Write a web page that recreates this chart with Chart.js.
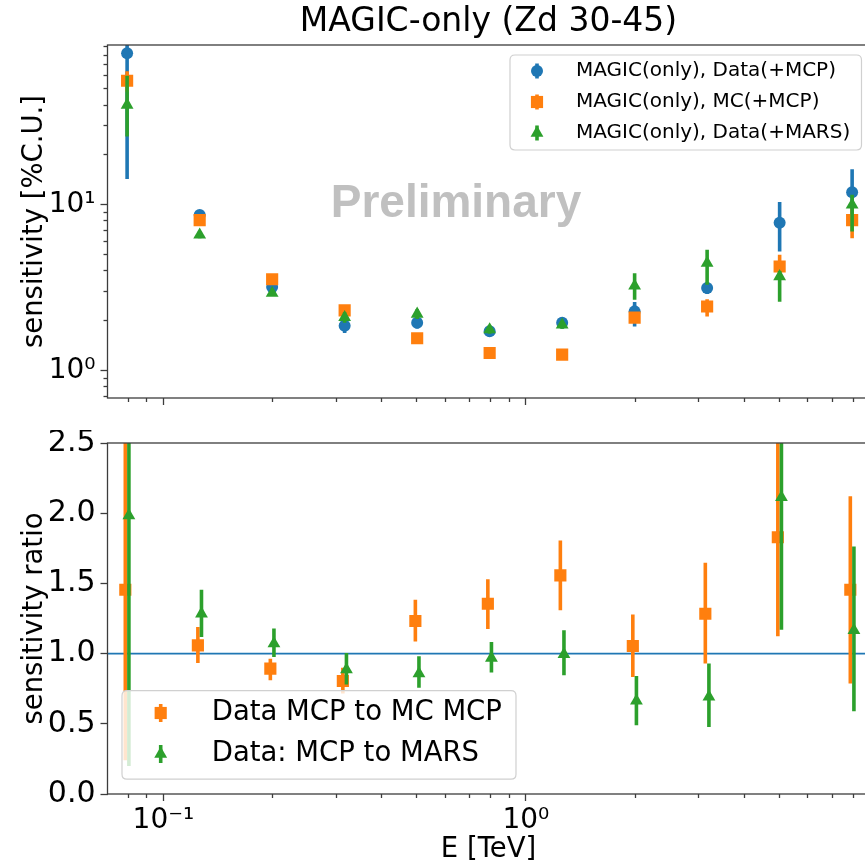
<!DOCTYPE html>
<html><head><meta charset="utf-8">
<script src="https://cdn.jsdelivr.net/npm/chart.js@4.4.1/dist/chart.umd.min.js"></script>
<style>
html,body{margin:0;padding:0;background:#fff;overflow:hidden;width:865px;height:861px;}
#wrap{position:relative;width:865px;height:861px;overflow:hidden;background:#fff;}
#top{position:absolute;left:0;top:0;}
#bot{position:absolute;left:0;top:430px;}
</style></head><body><div id="wrap">
<canvas id="top" width="880" height="410" style="width:880px;height:410px"></canvas>
<canvas id="bot" width="880" height="440" style="width:880px;height:440px"></canvas>
</div>
<script>
// ---------------- data ----------------
const TITLE = 'MAGIC-only (Zd 30-45)';
const ENERGY = [0.0794, 0.1259, 0.1995, 0.3162, 0.5012, 0.7943, 1.259, 1.995, 3.162, 5.012, 7.943];

const SENS_DATA_MCP    = [82, 8.7, 3.2, 1.87, 1.95, 1.73, 1.95, 2.28, 3.15, 7.8, 11.9];
const SENS_DATA_MCP_LO = [14.3, 8.2, 3.0, 1.69, 1.8, 1.63, 1.83, 1.85, 2.9, 5.24, 8.5];
const SENS_DATA_MCP_HI = [120, 9.2, 3.4, 2.05, 2.1, 1.83, 2.07, 2.6, 3.4, 10.4, 16.4];

const SENS_MC_MCP    = [56, 8.1, 3.56, 2.31, 1.57, 1.28, 1.25, 2.09, 2.44, 4.25, 8.1];
const SENS_MC_MCP_LO = [48, 7.7, 3.42, 2.21, 1.51, 1.22, 1.18, 1.94, 2.12, 3.62, 6.3];
const SENS_MC_MCP_HI = [64, 8.5, 3.7, 2.41, 1.63, 1.34, 1.32, 2.24, 2.7, 5.0, 9.5];

const SENS_DATA_MARS    = [40, 6.6, 2.94, 2.1, 2.2, 1.77, 1.89, 3.25, 4.46, 3.7, 10.0];
const SENS_DATA_MARS_LO = [25.8, 6.3, 2.82, 1.95, 2.05, 1.67, 1.79, 2.68, 3.3, 2.61, 6.9];
const SENS_DATA_MARS_HI = [60, 6.9, 3.06, 2.25, 2.35, 1.87, 1.99, 3.87, 5.36, 4.0, 11.5];

const RATIO_MC    = [1.455, 1.059, 0.893, 0.805, 1.232, 1.355, 1.557, 1.054, 1.284, 1.829, 1.455];
const RATIO_MC_LO = [0.24, 0.933, 0.81, 0.716, 1.087, 1.175, 1.308, 0.834, 0.929, 1.123, 0.787];
const RATIO_MC_HI = [3.0, 1.19, 0.964, 0.9, 1.384, 1.53, 1.805, 1.279, 1.647, 3.0, 2.12];

const RATIO_MARS    = [1.983, 1.284, 1.071, 0.886, 0.858, 0.969, 0.995, 0.663, 0.692, 2.113, 1.166];
const RATIO_MARS_LO = [0.2, 1.118, 0.976, 0.78, 0.756, 0.865, 0.846, 0.49, 0.478, 1.17, 0.59];
const RATIO_MARS_HI = [3.2, 1.455, 1.178, 1.004, 0.981, 1.083, 1.166, 0.841, 0.929, 3.2, 1.763];

const REF_RATIO = 1.0;

const LABELS_TOP = ['MAGIC(only), Data(+MCP)', 'MAGIC(only), MC(+MCP)', 'MAGIC(only), Data(+MARS)'];
const LABELS_BOT = ['Data MCP to MC MCP', 'Data: MCP to MARS'];

const X_MIN = 0.0701, X_MAX = 8.87;
const X_MAJOR = [0.1, 1];
const X_MAJOR_LABELS = ['10\u207B\u00B9', '10\u2070'];
const X_MINOR = [0.08, 0.09, 0.2, 0.3, 0.4, 0.5, 0.6, 0.7, 0.8, 0.9, 2, 3, 4, 5, 6, 7, 8];

const TOP_Y_MIN = 0.685, TOP_Y_MAX = 92;
const TOP_Y_MAJOR = [1, 10];
const TOP_Y_MAJOR_LABELS = ['10\u2070', '10\u00B9'];
const TOP_Y_MINOR = [0.7, 0.8, 0.9, 2, 3, 4, 5, 6, 7, 8, 9, 20, 30, 40, 50, 60, 70, 80, 90];

const BOT_Y_MIN = 0, BOT_Y_MAX = 2.5;
const BOT_Y_TICKS = [0, 0.5, 1.0, 1.5, 2.0, 2.5];

// ---------------- styles ----------------
const C_BLUE = '#1f77b4', C_ORANGE = '#ff7f0e', C_GREEN = '#2ca02c';
const FONT = 'DejaVu Sans';
const AX_COLOR = '#3c3c3c';
const ERR_W = 3.6;
const MARK = {
  circle: {pointStyle: 'circle', radius: 6},
  rect: {pointStyle: 'rect', radius: 8.6},
  triangle: {pointStyle: 'triangle', radius: 7.4}
};

Chart.defaults.font.family = FONT;
Chart.defaults.color = '#000';

function pts(ys) { return ENERGY.map((x, i) => ({x: x, y: ys[i]})); }
function series(label, ys, lo, hi, color, mk, order, dx) {
  return {label, data: pts(ys), errLo: lo, errHi: hi, pixelShift: dx || 0,
    backgroundColor: color, borderColor: color, borderWidth: 0,
    pointStyle: MARK[mk].pointStyle, pointRadius: MARK[mk].radius, pointHoverRadius: MARK[mk].radius,
    showLine: false, order};
}

const errPlugin = {
  id: 'errbars',
  beforeDatasetDraw(chart, args) {
    const ds = chart.data.datasets[args.index];
    if (!ds.errLo) return;
    const xs = chart.scales[args.meta.xAxisID], ys = chart.scales[args.meta.yAxisID];
    const ctx = chart.ctx, a = chart.chartArea;
    const dx = ds.pixelShift || 0;
    ctx.save();
    ctx.beginPath(); ctx.rect(a.left, a.top, a.right - a.left, a.bottom - a.top); ctx.clip();
    ctx.strokeStyle = ds.backgroundColor; ctx.lineWidth = ERR_W; ctx.lineCap = 'butt';
    ds.data.forEach((p, i) => {
      const x = xs.getPixelForValue(p.x) + dx;
      const el = args.meta.data[i];
      if (el) el.x = x;
      ctx.beginPath();
      ctx.moveTo(x, ys.getPixelForValue(ds.errLo[i]));
      ctx.lineTo(x, ys.getPixelForValue(ds.errHi[i]));
      ctx.stroke();
    });
    ctx.restore();
  }
};

function roundRect(ctx, x, y, w, h, r) {
  ctx.beginPath();
  ctx.moveTo(x + r, y); ctx.lineTo(x + w - r, y); ctx.quadraticCurveTo(x + w, y, x + w, y + r);
  ctx.lineTo(x + w, y + h - r); ctx.quadraticCurveTo(x + w, y + h, x + w - r, y + h);
  ctx.lineTo(x + r, y + h); ctx.quadraticCurveTo(x, y + h, x, y + h - r);
  ctx.lineTo(x, y + r); ctx.quadraticCurveTo(x, y, x + r, y); ctx.closePath();
}

const framePlugin = {
  id: 'frame',
  beforeDatasetsDraw(chart, args, opts) {
    if (opts.watermark) {
      const ctx = chart.ctx;
      ctx.save();
      ctx.fillStyle = '#c0c0c0';
      ctx.font = 'bold 46px "Liberation Sans", Arial, sans-serif';
      ctx.textAlign = 'center'; ctx.textBaseline = 'alphabetic';
      ctx.fillText(opts.watermark, opts.wmX, opts.wmY);
      ctx.restore();
    }
  },
  afterDatasetsDraw(chart, args, opts) {
    const ctx = chart.ctx, a = chart.chartArea;
    ctx.save();
    ctx.strokeStyle = AX_COLOR; ctx.lineWidth = 1.3;
    ctx.strokeRect(a.left, a.top, a.right - a.left, a.bottom - a.top);
    const L = opts.legend;
    if (L) {
      roundRect(ctx, L.x, L.y, L.w, L.h, 5);
      ctx.fillStyle = 'rgba(255,255,255,0.8)'; ctx.fill();
      ctx.strokeStyle = '#d0d0d0'; ctx.lineWidth = 1.2; ctx.stroke();
      ctx.font = L.font + 'px "' + FONT + '"';
      ctx.textBaseline = 'middle'; ctx.textAlign = 'left';
      L.items.forEach((idx, k) => {
        const ds = chart.data.datasets[idx];
        const y = L.rowY[k];
        ctx.strokeStyle = ds.backgroundColor; ctx.lineWidth = ERR_W;
        ctx.beginPath(); ctx.moveTo(L.mx, y - L.bar); ctx.lineTo(L.mx, y + L.bar); ctx.stroke();
        ctx.fillStyle = ds.backgroundColor;
        Chart.helpers.drawPoint(ctx, {pointStyle: ds.pointStyle, radius: ds.pointRadius, rotation: 0, borderWidth: 0}, L.mx, y);
        ctx.fillStyle = '#000';
        ctx.fillText(ds.label, L.tx, y);
      });
    }
    ctx.restore();
  }
};

function tickAxis(pos, type, min, max, vals, len, weight, sizeFn, extra) {
  const o = {
    type, position: pos, min, max, weight,
    afterBuildTicks: s => { s.ticks = vals.map(v => ({value: v})); },
    afterFit: s => { sizeFn(s); s.paddingTop = 0; s.paddingBottom = 0; s.paddingLeft = 0; s.paddingRight = 0; },
    grid: {drawOnChartArea: false, drawTicks: true, tickLength: len, tickColor: AX_COLOR, tickWidth: 1.3},
    border: {display: false},
    ticks: {display: false, autoSkip: false, maxRotation: 0, minRotation: 0}
  };
  return Object.assign(o, extra || {});
}

// ---------------- top chart ----------------
new Chart(document.getElementById('top'), {
  type: 'scatter',
  data: {datasets: [
    series(LABELS_TOP[0], SENS_DATA_MCP, SENS_DATA_MCP_LO, SENS_DATA_MCP_HI, C_BLUE, 'circle', 3),
    series(LABELS_TOP[1], SENS_MC_MCP, SENS_MC_MCP_LO, SENS_MC_MCP_HI, C_ORANGE, 'rect', 2),
    series(LABELS_TOP[2], SENS_DATA_MARS, SENS_DATA_MARS_LO, SENS_DATA_MARS_HI, C_GREEN, 'triangle', 1)
  ]},
  options: {
    responsive: false, animation: false, events: [],
    layout: {padding: {left: 0, right: 10.5, top: 0, bottom: 0}},
    plugins: {
      legend: {display: false}, tooltip: {enabled: false},
      title: {display: true, fullSize: false, text: TITLE, color: '#000', font: {size: 33, weight: 'normal', family: FONT, lineHeight: 1.2}, padding: {top: 2.4, bottom: 3}},
      frame: {
        watermark: 'Preliminary', wmX: 456, wmY: 217,
        legend: {x: 510, y: 55, w: 351.5, h: 95, font: 20, mx: 537, tx: 576, bar: 7.5, rowY: [71, 102, 133], items: [0, 1, 2]}
      }
    },
    scales: {
      x: tickAxis('bottom', 'logarithmic', X_MIN, X_MAX, X_MAJOR, 7, 1, s => { s.height = 12; }),
      xm: tickAxis('bottom', 'logarithmic', X_MIN, X_MAX, X_MINOR, 4, 0, s => { s.height = 0; }),
      y: tickAxis('left', 'logarithmic', TOP_Y_MIN, TOP_Y_MAX, TOP_Y_MAJOR, 7, 1, s => { s.width = 107.5; }, {
        ticks: {display: true, autoSkip: false, padding: 5, font: {size: 28, family: FONT}, color: '#000',
          callback: (v, i) => TOP_Y_MAJOR_LABELS[i]},
        title: {display: true, text: 'sensitivity [%C.U.]', color: '#000', font: {size: 27.5, family: FONT, lineHeight: 1.2}, padding: {top: 18, bottom: 0}}
      }),
      ym: tickAxis('left', 'logarithmic', TOP_Y_MIN, TOP_Y_MAX, TOP_Y_MINOR, 4, 0, s => { s.width = 0; })
    }
  },
  plugins: [errPlugin, framePlugin]
});

// ---------------- bottom chart ----------------
new Chart(document.getElementById('bot'), {
  type: 'scatter',
  data: {datasets: [
    {label: 'ref', data: [{x: X_MIN, y: REF_RATIO}, {x: X_MAX, y: REF_RATIO}], showLine: true,
      borderColor: C_BLUE, backgroundColor: C_BLUE, borderWidth: 1.6, pointRadius: 0, pointHoverRadius: 0, order: 10},
    series(LABELS_BOT[0], RATIO_MC, RATIO_MC_LO, RATIO_MC_HI, C_ORANGE, 'rect', 2, -1.8),
    series(LABELS_BOT[1], RATIO_MARS, RATIO_MARS_LO, RATIO_MARS_HI, C_GREEN, 'triangle', 1, 1.8)
  ]},
  options: {
    responsive: false, animation: false, events: [],
    layout: {padding: {left: 0, right: 10.5, top: 13, bottom: 0}},
    plugins: {
      legend: {display: false}, tooltip: {enabled: false}, title: {display: false},
      frame: {
        legend: {x: 122, y: 690.7 - 430, w: 394, h: 88.5, font: 27.5, mx: 160.7, tx: 211.7, bar: 9, rowY: [713 - 430, 754 - 430], items: [1, 2]}
      }
    },
    scales: {
      x: tickAxis('bottom', 'logarithmic', X_MIN, X_MAX, X_MAJOR, 7, 1, s => { s.height = 76; }, {
        ticks: {display: true, autoSkip: false, maxRotation: 0, minRotation: 0, padding: 3, font: {size: 28, family: FONT}, color: '#000',
          callback: (v, i) => X_MAJOR_LABELS[i]},
        title: {display: true, text: 'E [TeV]', color: '#000', font: {size: 27.5, family: FONT, lineHeight: 1.2}, padding: {top: 0, bottom: 3.7}}
      }),
      xm: tickAxis('bottom', 'logarithmic', X_MIN, X_MAX, X_MINOR, 4, 0, s => { s.height = 0; }),
      y: tickAxis('left', 'linear', BOT_Y_MIN, BOT_Y_MAX, BOT_Y_TICKS, 7, 1, s => { s.width = 107.5; }, {
        ticks: {display: true, autoSkip: false, padding: 5, font: {size: 30, family: FONT}, color: '#000',
          callback: (v, i) => BOT_Y_TICKS[i].toFixed(1)},
        title: {display: true, text: 'sensitivity ratio', color: '#000', font: {size: 27.5, family: FONT, lineHeight: 1.2}, padding: {top: 18, bottom: 0}}
      })
    }
  },
  plugins: [errPlugin, framePlugin]
});
</script></body></html>
